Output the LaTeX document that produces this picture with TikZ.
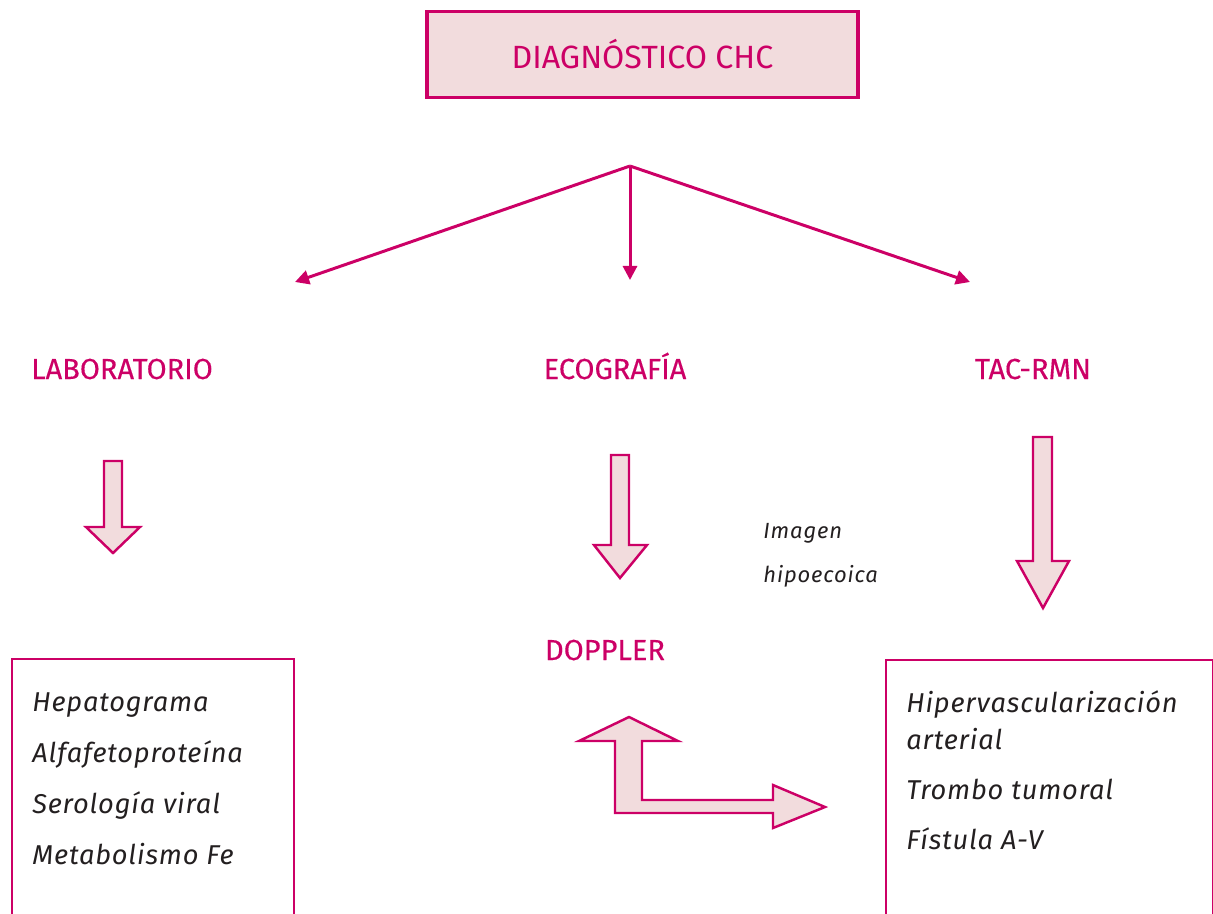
\documentclass[tikz,border=0pt]{standalone}
\usepackage{fontspec}
\setmainfont{Fira Sans}
\usetikzlibrary{positioning, arrows.meta}
\definecolor{chcmag}{RGB}{204,0,102}
\definecolor{chcrosa}{RGB}{242,220,221}
\definecolor{chctext}{RGB}{35,31,32}

\begin{document}
\begin{tikzpicture}[x=0.02cm, y=-0.02cm,
	heading/.style={text=chcmag, font=\fontsize{16.5}{19}\selectfont\addfontfeature{FakeBold=0.3}, inner sep=0pt, anchor=base},
	item/.style={text=chctext, font=\fontsize{15.5}{21}\selectfont\itshape\addfontfeature{LetterSpace=3}, inner sep=0pt, anchor=base west, align=left},
	note/.style={text=chctext, font=\fontsize{12.5}{14}\selectfont\itshape\addfontfeature{LetterSpace=4}, inner sep=0pt, anchor=base west},
	fork/.style={draw=chcmag, line width=1.7pt, -{Triangle[length=8pt, width=8pt]}},
	blockarrow/.style={draw=chcmag, fill=chcrosa, line width=1.4pt, line join=miter},
	listbox/.style={draw=chcmag, line width=1.1pt, fill=white, anchor=north west, inner sep=0pt}]
	\useasboundingbox (0,0) rectangle (1213,913);
	\clip (0,0) rectangle (1213,913);

	\node[draw=chcmag, line width=2pt, fill=chcrosa, minimum width=8.62cm, minimum height=1.72cm,
		text=chcmag, font=\fontsize{18.3}{22}\selectfont] (diag) at (642.5,54.5) {DIAGNÓSTICO CHC};

	\coordinate (split) at (630,166);
	\coordinate (labtip) at (295,282);
	\coordinate (ecotip) at (630,280);
	\coordinate (tactip) at (970,282);
	\draw[fork] (split) -- (labtip);
	\draw[fork] (split) -- (ecotip);
	\draw[fork] (split) -- (tactip);

	\node[heading] (lab) at (122,379) {LABORATORIO};
	\node[heading] (eco) at (615,379) {ECOGRAFÍA};
	\node[heading] (tac) at (1033,379) {TAC-RMN};

	\draw[blockarrow] (104,461) -- (122,461) -- (122,527) -- (140,527) -- (113,553) -- (86,527) -- (104,527) -- cycle;
	\draw[blockarrow] (611,455) -- (629,455) -- (629,545) -- (647,545) -- (620,578) -- (594,545) -- (611,545) -- cycle;
	\draw[blockarrow] (1033,437) -- (1052,437) -- (1052,561) -- (1069,561) -- (1043,608) -- (1017,561) -- (1033,561) -- cycle;

	\node[note] (img) at (763,538) {Imagen};
	\node[note] (hipo) at (763,582) {hipoecoica};

	\node[heading] (dop) at (605,660) {DOPPLER};

	\draw[blockarrow] (629,717) -- (678,741) -- (642,741) -- (642,800) -- (773,800) -- (773,785) -- (825,807)
		-- (773,828) -- (773,813) -- (615,813) -- (615,741) -- (579,741) -- cycle;

	\node[listbox, minimum width=5.64cm, minimum height=5.8cm] (labbox) at (11,658) {};
	\node[listbox, minimum width=6.54cm, minimum height=5.8cm] (tacbox) at (885,659) {};

	\node[item] (hep) at (32,711) {Hepatograma};
	\node[item] (afp) at (32,762) {Alfafetoproteína};
	\node[item] (sero) at (32,813) {Serología viral};
	\node[item] (fe) at (32,864) {Metabolismo Fe};

	\node[item, anchor=north west] (hiper) at (906,690) {Hipervascularización\\arterial};
	\node[item] (trombo) at (906,799) {Trombo tumoral};
	\node[item] (fist) at (906,849) {Fístula A-V};
\end{tikzpicture}
\end{document}
